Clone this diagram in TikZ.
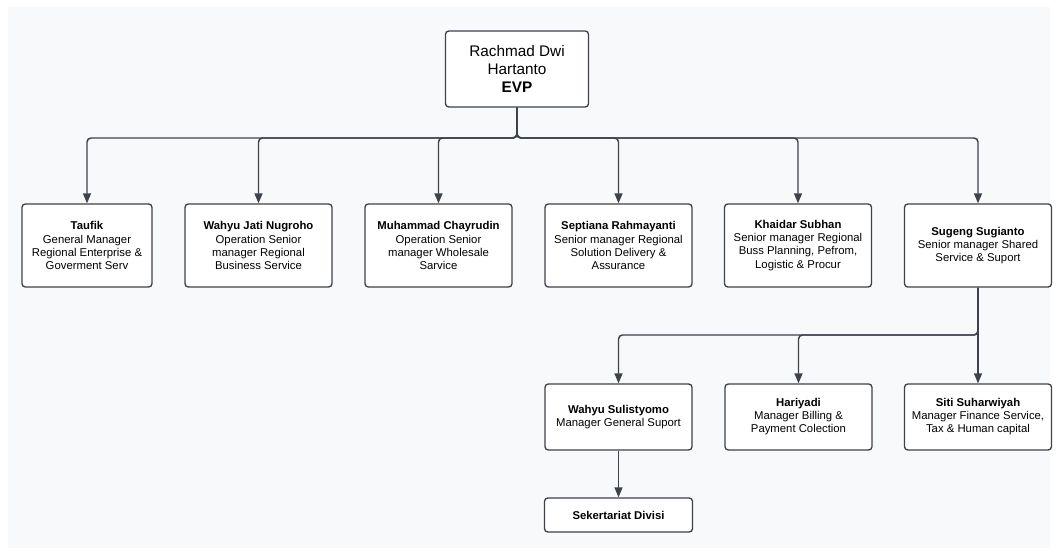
\documentclass[tikz,border=0pt]{standalone}
\usepackage{fontspec}
\setmainfont{Liberation Sans}
\usetikzlibrary{arrows.meta}

\definecolor{bgcol}{RGB}{248,249,251}
\definecolor{edgecol}{RGB}{62,66,74}

\tikzset{every picture/.style={line width=0.75pt}}
\tikzset{
  orgbox/.style={draw=edgecol, fill=white, line width=1, rounded corners=2.5pt, align=center, inner sep=0.75pt, font=\fontsize{8.5}{9.8}\selectfont},
  rowbox/.style={orgbox, minimum width=110.25pt, minimum height=62.25pt},
  subbox/.style={orgbox, minimum width=110.25pt, minimum height=49.5pt},
  orglink/.style={draw=edgecol, line width=1.1, rounded corners=3pt, -{Triangle[width=6pt,length=7.5pt]}},
}

\begin{document}
\begin{tikzpicture}[x=0.75pt,y=0.75pt,yscale=-1,xscale=1]
\path[use as bounding box] (0,0) rectangle (1056,555);
\fill[bgcol] (8,7) rectangle (1050,548);

% Head
\node[orgbox, minimum width=107.25pt, minimum height=57pt, font=\fontsize{11.5}{13.2}\selectfont] (evp) at (517,69) {Rachmad Dwi\\Hartanto\\\textbf{EVP}};

% First row
\node[rowbox, minimum width=97.5pt] (taufik) at (87,245.5) {\textbf{Taufik}\\General Manager\\Regional Enterprise \&\\Goverment Serv};
\node[rowbox] (wahyu) at (258.5,245.5) {\textbf{Wahyu Jati Nugroho}\\Operation Senior\\manager Regional\\Business Service};
\node[rowbox] (chayrudin) at (438.5,245.5) {\textbf{Muhammad Chayrudin}\\Operation Senior\\manager Wholesale\\Sarvice};
\node[rowbox] (septiana) at (618.5,245.5) {\textbf{Septiana Rahmayanti}\\Senior manager Regional\\Solution Delivery \&\\Assurance};
\node[rowbox] (khaidar) at (798,245.5) {\textbf{Khaidar Subhan}\\Senior manager Regional\\Buss Planning, Pefrom,\\Logistic \& Procur};
\node[rowbox] (sugeng) at (978,245.5) {\textbf{Sugeng Sugianto}\\Senior manager Shared\\Service \& Suport};

% Second row
\node[subbox] (sulistyomo) at (618.5,417) {\textbf{Wahyu Sulistyomo}\\Manager General Suport};
\node[subbox] (hariyadi) at (798.5,417) {\textbf{Hariyadi}\\Manager Billing \&\\Payment Colection};
\node[subbox] (siti) at (978,417) {\textbf{Siti Suharwiyah}\\Manager Finance Service,\\Tax \& Human capital};

% Third row
\node[orgbox, minimum width=111pt, minimum height=25.5pt] (sekretariat) at (618.5,515) {\textbf{Sekertariat Divisi}};

% Bus points
\coordinate (bus) at (517,138);
\coordinate (bustwo) at (978,335);

% Links
\foreach \n in {taufik,wahyu,chayrudin,septiana,khaidar,sugeng}
  \draw[orglink] (evp.south) -- (bus) -| (\n.north);
\foreach \n in {sulistyomo,hariyadi}
  \draw[orglink] (sugeng.south) -- (bustwo) -| (\n.north);
\draw[orglink] (sugeng.south) -- (siti.north);
\draw[orglink] (sulistyomo.south) -- (sekretariat.north);
\end{tikzpicture}
\end{document}
